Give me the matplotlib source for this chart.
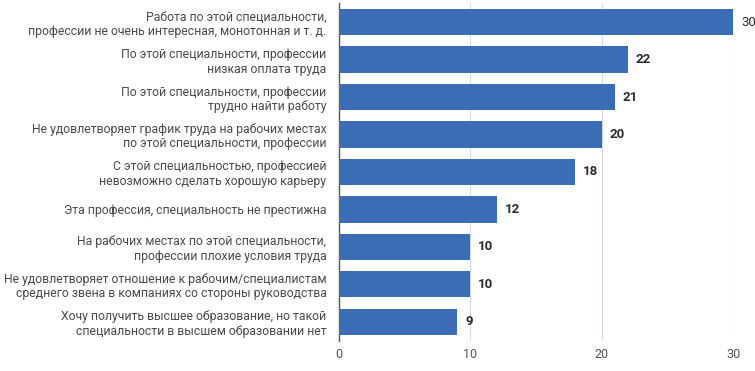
import matplotlib
matplotlib.use('Agg')
import matplotlib.pyplot as plt

# Причины и доли ответов, %
reasons = [
    'Работа по этой специальности,\nпрофессии не очень интересная, монотонная и т. д.',
    'По этой специальности, профессии\nнизкая оплата труда',
    'По этой специальности, профессии\nтрудно найти работу',
    'Не удовлетворяет график труда на рабочих местах\nпо этой специальности, профессии',
    'С этой специальностью, профессией\nневозможно сделать хорошую карьеру',
    'Эта профессия, специальность не престижна',
    'На рабочих местах по этой специальности,\nпрофессии плохие условия труда',
    'Не удовлетворяет отношение к рабочим/специалистам\nсреднего звена в компаниях со стороны руководства',
    'Хочу получить высшее образование, но такой\nспециальности в высшем образовании нет',
]
shares = [30, 22, 21, 20, 18, 12, 10, 10, 9]
x_ticks = [0, 10, 20, 30]

plt.rcParams['font.family'] = ['Roboto', 'DejaVu Sans']

fig = plt.figure(figsize=(7.55, 3.71), dpi=100)
ax = fig.add_axes([0.449, 0.082, 0.522, 0.909])

pos = list(range(len(reasons)))
ax.barh(pos, shares, height=0.7, color='#3a6db5', zorder=3)
ax.set_ylim(len(reasons) - 0.5, -0.5)
ax.set_xlim(0, 30)

for p, v in zip(pos, shares):
    # у самой длинной полосы подпись не жирная, как в исходнике
    w = 'normal' if v == max(shares) else 'bold'
    ax.text(v + 0.6, p, str(v), va='center', ha='left', fontsize=9.5,
            fontweight=w, color='#2a2a2a')

ax.set_yticks(pos)
ax.set_yticklabels(reasons, fontsize=8.8, color='#4a4a4a', linespacing=1.15)
ax.set_xticks(x_ticks)
ax.set_xticklabels([str(t) for t in x_ticks], fontsize=9, color='#555555')
ax.tick_params(axis='both', length=0)
ax.tick_params(axis='y', pad=9)
ax.tick_params(axis='x', pad=5)

ax.grid(axis='x', color='#cfdbe6', linewidth=0.8, zorder=0)
for s in ['top', 'right', 'bottom']:
    ax.spines[s].set_visible(False)
ax.spines['left'].set_color('#555555')
ax.spines['left'].set_linewidth(1.0)

fig.savefig('out.png', dpi=100)
